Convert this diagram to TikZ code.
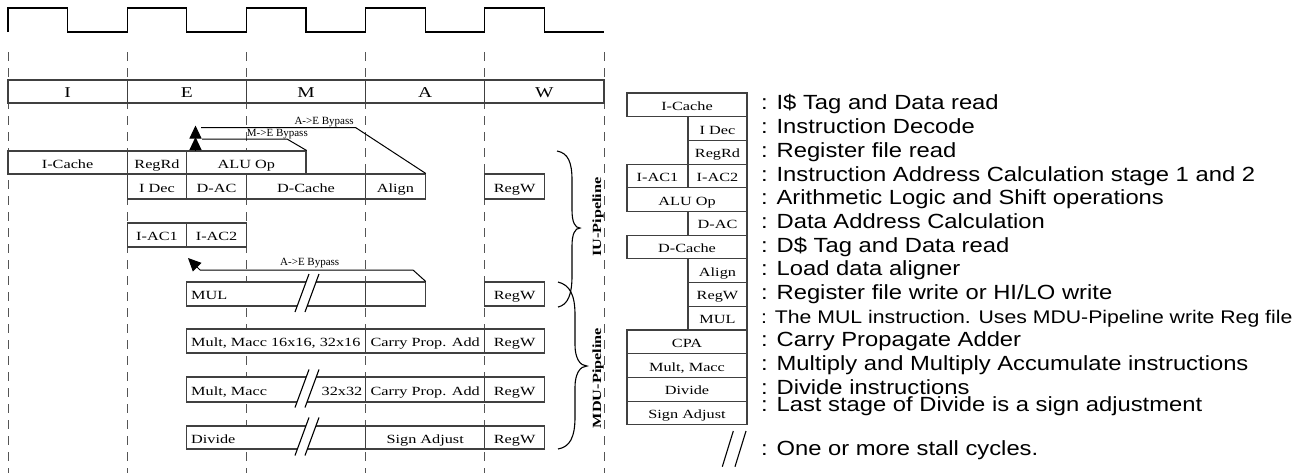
\documentclass[tikz,border=0pt]{standalone}
\usepackage{fontspec}
\setmainfont{Liberation Serif}[FakeStretch=1.3]
\newfontfamily\plainserif{Liberation Serif}
\newfontfamily\legfont{Liberation Sans}[FakeStretch=1.16]
\usetikzlibrary{arrows.meta}
\definecolor{boxc}{HTML}{404040}
\definecolor{dashc}{HTML}{555555}
\newcommand\mybox[7][]{\node[bx,#1,minimum width={#5pt-#3pt},minimum height={#6pt-#4pt}] (#2) at ({(#3+#5)/2},{(#4+#6)/2}) {#7};}
\newcommand\stallmark[2]{%
  \fill[white] ({#1+3},{#2-20}) -- ({#1+13},{#2-20}) -- ({#1-1},{#2+18}) -- ({#1-11},{#2+18}) -- cycle;
  \draw[stl] ({#1+3},{#2-20}) -- ({#1-11},{#2+18});
  \draw[stl] ({#1+13},{#2-20}) -- ({#1-1},{#2+18});}
\begin{document}
\begin{tikzpicture}[x=1pt,y=-1pt,
  bx/.style={draw=boxc,fill=white,line width=1.1pt,inner sep=0pt,font=\fontsize{12.5}{14}\selectfont,text height=11.5pt,text depth=0.5pt},
  stg/.style={font=\fontsize{15}{16}\selectfont,text height=13pt,text depth=1pt},
  lbl/.style={inner sep=0pt,anchor=base west,font=\fontsize{12.5}{14}\selectfont},
  leg/.style={inner sep=0pt,anchor=base west,font=\legfont\fontsize{20.5}{22}\selectfont},
  legs/.style={inner sep=0pt,anchor=base west,font=\legfont\fontsize{18.3}{20}\selectfont},
  byl/.style={inner sep=0pt,anchor=base west,font=\plainserif\fontsize{11}{12}\selectfont},
  rot/.style={inner sep=0pt,rotate=90,font=\bfseries\fontsize{12.5}{14}\selectfont},
  clk/.style={line width=1.2pt,black},
  dsh/.style={dashc,line width=0.9pt,dash pattern=on 9pt off 7pt},
  byp/.style={line width=1pt,black},
  tipc/.style={line width=1pt,black,-{Triangle[length=13pt,width=12pt]}},
  brc/.style={line width=1.1pt,black},
  stl/.style={line width=1.1pt,black}]
\useasboundingbox (0,0) rectangle (1302,475);
% clock
\draw[clk] (8,32) -- (8,8) -- (67.6,8) -- (67.6,32) -- (127.2,32) -- (127.2,8) -- (186.8,8) -- (186.8,32)
  -- (246.4,32) -- (246.4,8) -- (306,8) -- (306,32) -- (365.6,32) -- (365.6,8) -- (425.2,8) -- (425.2,32)
  -- (484.8,32) -- (484.8,8) -- (544.4,8) -- (544.4,32) -- (604,32);
% dashed stage lines
\foreach \x in {8,127.2,246.4,365.6,484.8,604} \draw[dsh] (\x,52) -- (\x,473);
% stage header
\mybox[stg]{sI}{8}{80}{127.2}{103}{I}
\mybox[stg]{sE}{127.2}{80}{246.4}{103}{E}
\mybox[stg]{sM}{246.4}{80}{365.6}{103}{M}
\mybox[stg]{sA}{365.6}{80}{484.8}{103}{A}
\mybox[stg]{sW}{484.8}{80}{604}{103}{W}
% IU rows
\mybox{icache}{8}{151}{127.2}{174}{I-Cache}
\mybox{regrd}{127.2}{151}{186.8}{174}{RegRd}
\mybox{alu}{186.8}{151}{306}{174}{ALU Op}
\mybox{idec}{127.2}{174}{186.8}{199}{I Dec}
\mybox{dac}{186.8}{174}{246.4}{199}{D-AC}
\mybox{dcache}{246.4}{174}{365.6}{199}{D-Cache}
\mybox{align}{365.6}{174}{425.2}{199}{Align}
\mybox{regwa}{484.8}{174}{544.4}{199}{RegW}
\mybox{iaca}{127.2}{223}{186.8}{247}{I-AC1}
\mybox{iacb}{186.8}{223}{246.4}{247}{I-AC2}
% MUL row
\mybox{mula}{186.8}{282}{365.6}{306}{}
\mybox{mulb}{365.6}{282}{425.2}{306}{}
\mybox{regwb}{484.8}{282}{544.4}{306}{RegW}
\node[lbl] (multxt) at (191,299.5) {MUL};
% Mult 16
\mybox{msix}{186.8}{329}{365.6}{353}{}
\node[lbl] (msixtxt) at (191,346.5) {Mult, Macc 16x16, 32x16};
\mybox{cpaa}{365.6}{329}{484.8}{353}{Carry Prop. Add}
\mybox{regwc}{484.8}{329}{544.4}{353}{RegW}
% Mult 32
\mybox{mtt}{186.8}{377}{365.6}{402}{}
\node[lbl] (mtttxt) at (191,395) {Mult, Macc};
\node[lbl,anchor=base east] (mttb) at (362.5,395) {32x32};
\mybox{cpab}{365.6}{377}{484.8}{402}{Carry Prop. Add}
\mybox{regwd}{484.8}{377}{544.4}{402}{RegW}
% Divide
\mybox{dvd}{186.8}{426}{365.6}{449}{}
\node[lbl] (dvdtxt) at (191,443) {Divide};
\mybox{sadj}{365.6}{426}{484.8}{449}{Sign Adjust}
\mybox{regwe}{484.8}{426}{544.4}{449}{RegW}
% stall marks
\stallmark{306}{294}
\stallmark{306}{389.5}
\stallmark{306}{437.5}
% bypasses
\coordinate (ua) at (355.5,127.5);
\coordinate (ub) at (201,127.5);
\coordinate (ma) at (287,139);
\coordinate (mb) at (202,139);
\coordinate (la) at (413,270);
\coordinate (lb) at (200,270);
\coordinate (ta) at (195.5,140);
\coordinate (tb) at (195.5,125.5);
\coordinate (tc) at (195.5,151);
\coordinate (td) at (195.5,137);
\coordinate (te) at (188,258);
\draw[byp] (align.north east) -- (ua) -- (ub);
\draw[tipc] (ta) -- (tb);
\draw[byp] (alu.north east) -- (ma) -- (mb);
\draw[tipc] (tc) -- (td);
\draw[byp] (mulb.north east) -- (la) -- (lb);
\draw[tipc] (lb) -- (te);
\node[byl] (laba) at (294.3,124) {A->E Bypass};
\node[byl] (labb) at (246.7,136.7) {M->E Bypass};
\node[byl] (labc) at (280,265.7) {A->E Bypass};
% braces
\draw[brc] (557,151) .. controls (568,153) and (572,162) .. (572,180) -- (572,210)
  .. controls (572,222) and (575,228) .. (580,228) .. controls (575,228) and (572,234) .. (572,246)
  -- (572,276) .. controls (572,294) and (568,305) .. (558,307);
\draw[brc] (558,282) .. controls (570,285) and (575,295) .. (575,315) -- (575,345)
  .. controls (575,358) and (580,366) .. (587,366) .. controls (580,366) and (575,374) .. (575,387)
  -- (575,417) .. controls (575,437) and (570,447) .. (558,449);
\node[rot] (iu) at (598,217) {IU-Pipeline};
\node[rot] (mdu) at (598,378) {MDU-Pipeline};
% legend boxes
\mybox{lga}{627}{93}{747}{116.7}{I-Cache}
\mybox{lgb}{688}{116.7}{747}{140.4}{I Dec}
\mybox{lgc}{688}{140.4}{747}{164.1}{RegRd}
\mybox{lgda}{627}{164.1}{688}{187.8}{I-AC1}
\mybox{lgdb}{688}{164.1}{747}{187.8}{I-AC2}
\mybox{lge}{627}{187.8}{747}{211.5}{ALU Op}
\mybox{lgf}{688}{211.5}{747}{235.2}{D-AC}
\mybox{lgg}{627}{235.2}{747}{258.9}{D-Cache}
\mybox{lgh}{688}{258.9}{747}{282.6}{Align}
\mybox{lgi}{688}{282.6}{747}{306.3}{RegW}
\mybox{lgj}{688}{306.3}{747}{330}{MUL}
\mybox{lgk}{627}{330}{747}{353.7}{CPA}
\mybox{lgl}{627}{353.7}{747}{377.4}{Mult, Macc}
\mybox{lgm}{627}{377.4}{747}{401.1}{Divide}
\mybox{lgn}{627}{401.1}{747}{424.8}{Sign Adjust}
\draw[stl] (733.3,431) -- (722.3,466.7);
\draw[stl] (746,431) -- (735,466.7);
% legend texts
\node[leg] (ta0) at (761,109.9) {: I\$ Tag and Data read};
\node[leg] (ta1) at (761,133.6) {: Instruction Decode};
\node[leg] (ta2) at (761,157.3) {: Register file read};
\node[leg] (ta3) at (761,181.0) {: Instruction Address Calculation stage 1 and 2};
\node[leg] (ta4) at (761,204.7) {: Arithmetic Logic and Shift operations};
\node[leg] (ta5) at (761,228.4) {: Data Address Calculation};
\node[leg] (ta6) at (761,252.1) {: D\$ Tag and Data read};
\node[leg] (ta7) at (761,275.8) {: Load data aligner};
\node[leg] (ta8) at (761,299.5) {: Register file write or HI/LO write};
\node[legs] (ta9) at (761,323.2) {: The MUL instruction. Uses MDU-Pipeline write Reg file};
\node[leg] (ta10) at (761,346.9) {: Carry Propagate Adder};
\node[leg] (ta11) at (761,370.6) {: Multiply and Multiply Accumulate instructions};
\node[leg] (ta12) at (761,394.3) {: Divide instructions};
\node[leg] (ta13) at (761,411.6) {: Last stage of Divide is a sign adjustment};
\node[leg] (ta14) at (761,455) {: One or more stall cycles.};
\end{tikzpicture}
\end{document}
